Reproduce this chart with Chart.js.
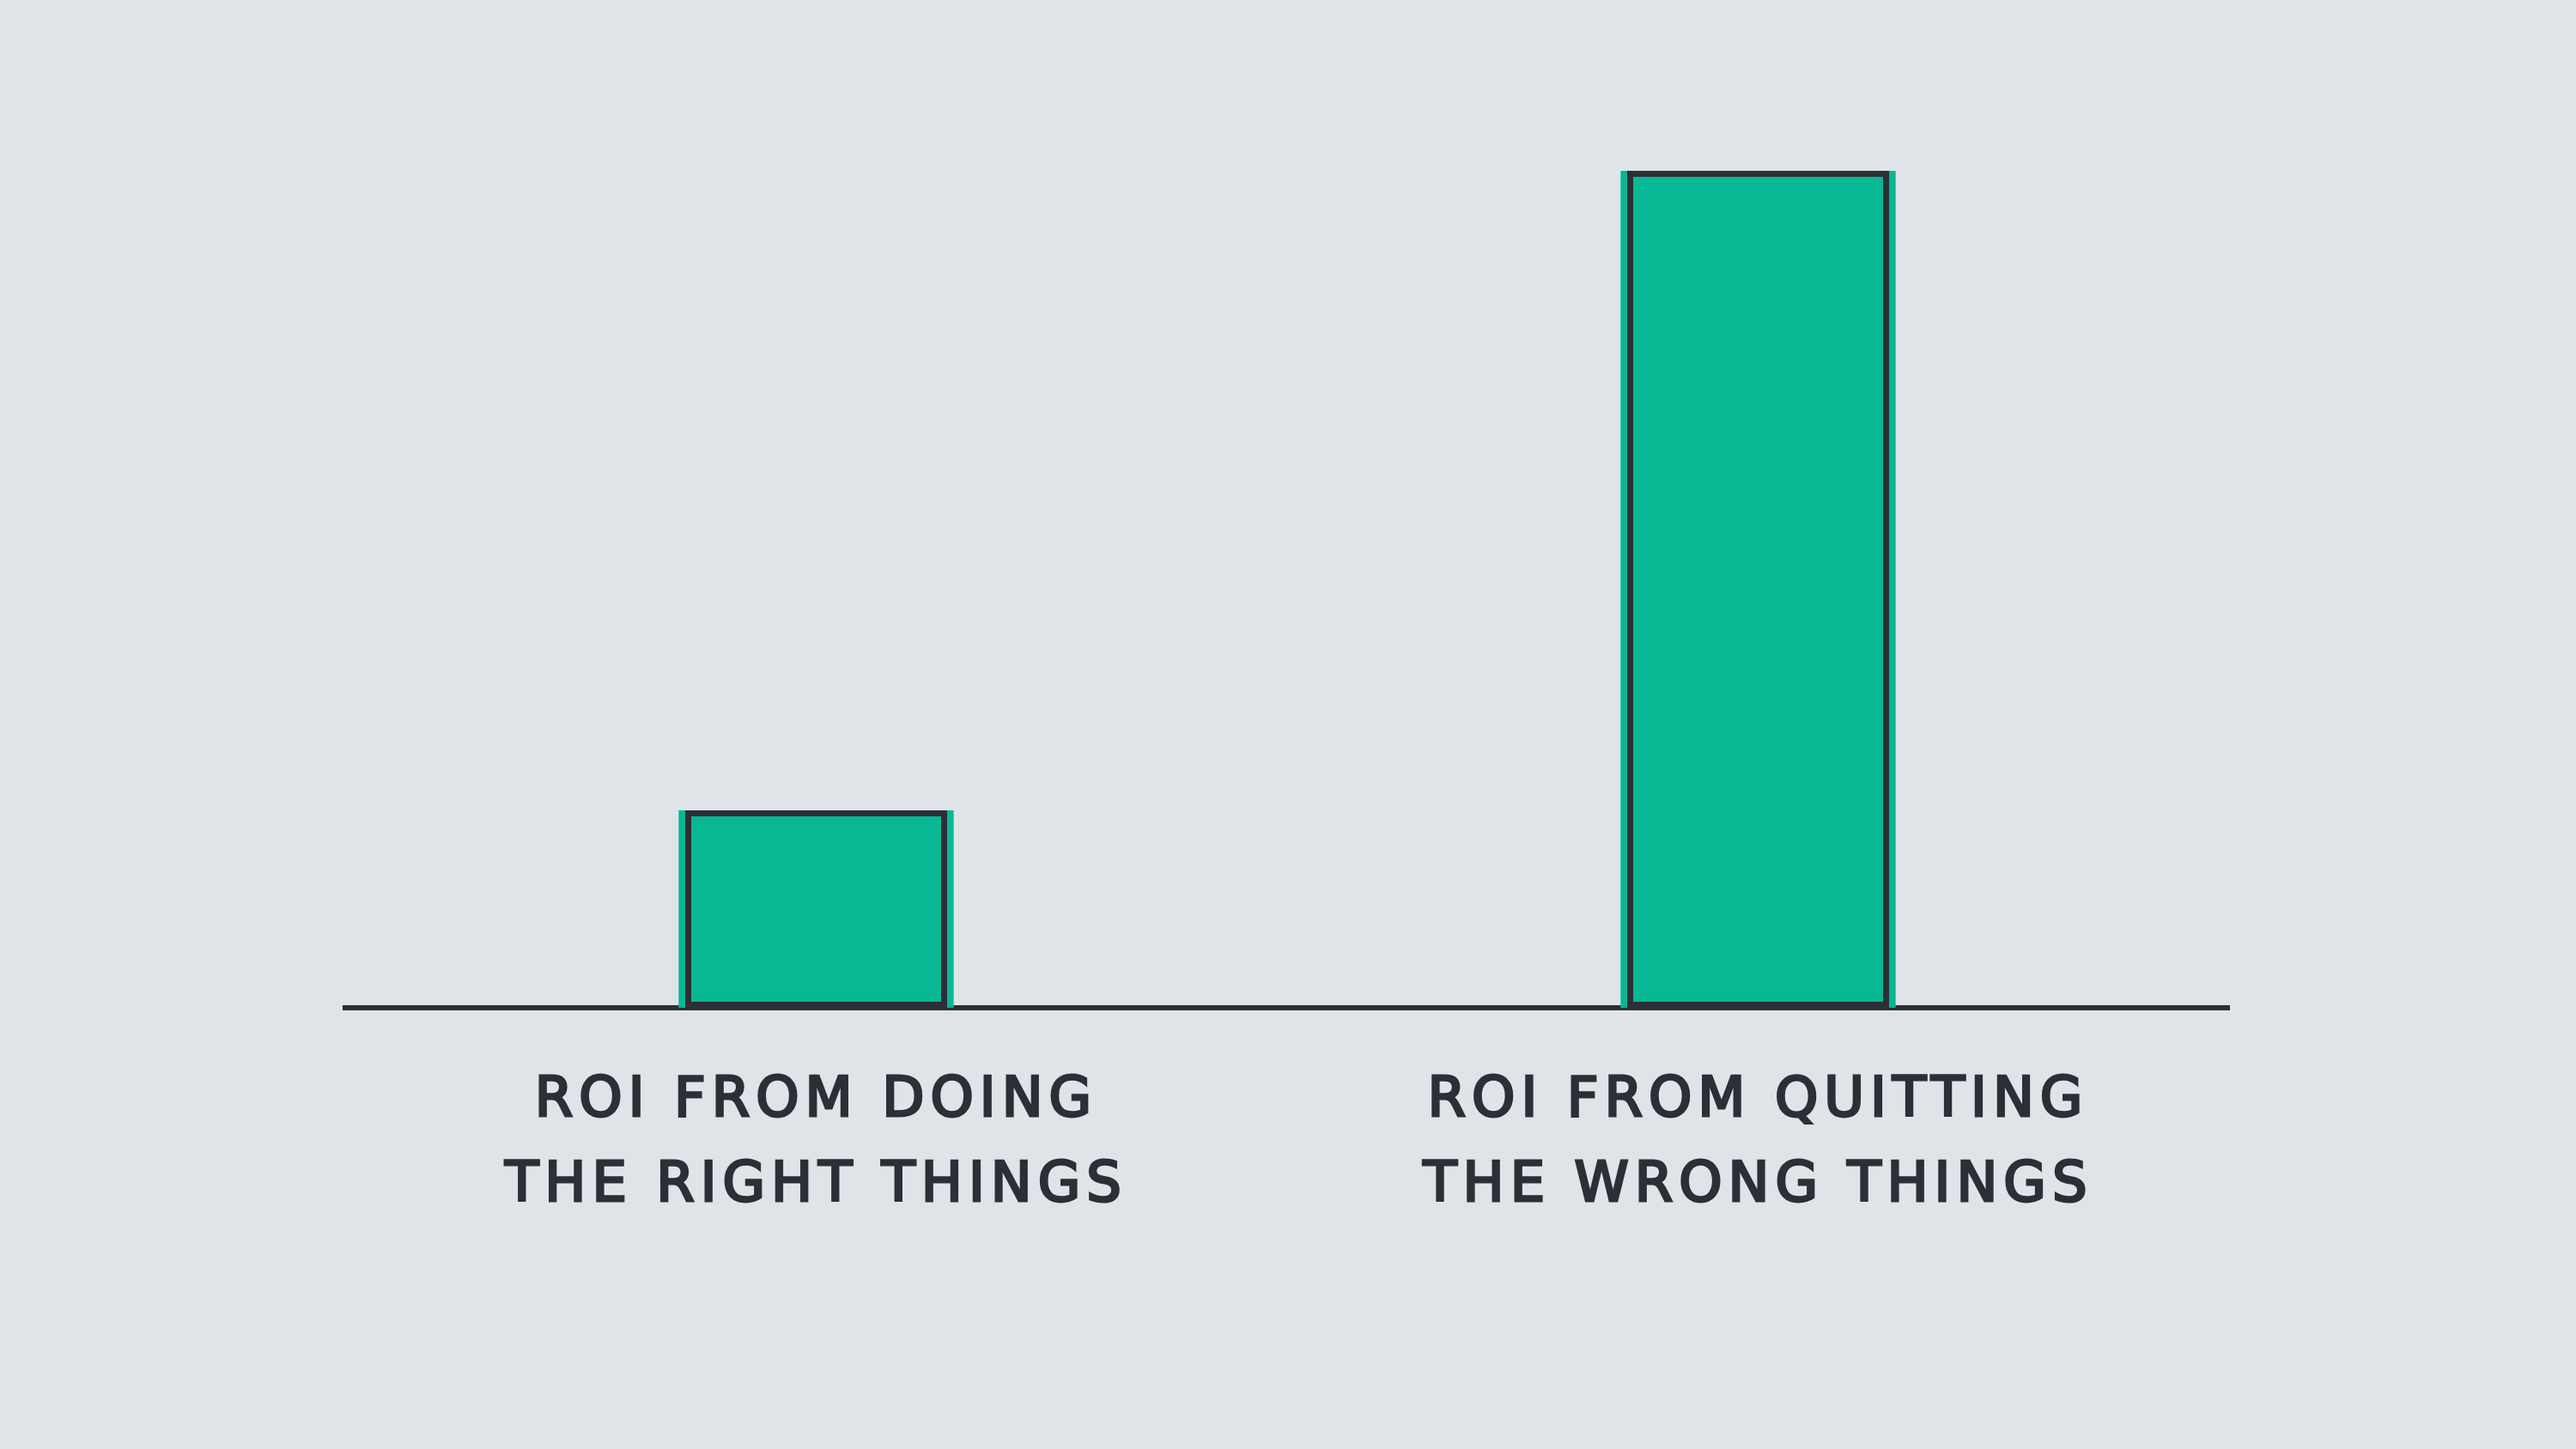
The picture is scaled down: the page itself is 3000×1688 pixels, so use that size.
<!DOCTYPE html>
<html>
<head>
<meta charset="utf-8">
<script src="https://cdn.jsdelivr.net/npm/chart.js@4.4.1/dist/chart.umd.min.js"></script>
<style>
  html, body { margin: 0; padding: 0; background: #dfe4e8; }
  #wrap { width: 3000px; height: 1688px; position: relative; }
</style>
</head>
<body>
<div id="wrap"><canvas id="roiChart"></canvas></div>
<script>
// Datos
const categories = [
  ["ROI FROM DOING", "THE RIGHT THINGS"],
  ["ROI FROM QUITTING", "THE WRONG THINGS"]
];
const roiValues = [23.6, 100];

const teal = "#08b794";
const ink = "#2b2f36";

// espaciado de letras para las etiquetas
const letterSpacingPlugin = {
  id: "letterSpacing",
  beforeDraw(chart) {
    chart.ctx.letterSpacing = "7px";
  }
};

const ctx = document.getElementById("roiChart").getContext("2d");
new Chart(ctx, {
  type: "bar",
  data: {
    labels: categories,
    datasets: [
      {
        // relleno un poco más ancho (efecto a mano)
        data: roiValues,
        backgroundColor: teal,
        borderWidth: 0,
        barPercentage: 0.292,
        categoryPercentage: 1,
        grouped: false,
        order: 2
      },
      {
        data: roiValues,
        backgroundColor: teal,
        borderColor: ink,
        borderWidth: 7,
        borderSkipped: false,
        barPercentage: 0.278,
        categoryPercentage: 1,
        grouped: false,
        order: 1
      }
    ]
  },
  options: {
    responsive: true,
    maintainAspectRatio: false,
    animation: false,
    layout: { padding: { top: 199, left: 402, right: 404, bottom: 196 } },
    plugins: {
      legend: { display: false },
      tooltip: { enabled: false }
    },
    scales: {
      x: {
        grid: { display: false, drawTicks: false },
        border: { display: true, color: ink, width: 6 },
        ticks: {
          color: ink,
          textStrokeColor: ink,
          textStrokeWidth: 3,
          padding: 60,
          maxRotation: 0,
          autoSkip: false,
          font: { family: "'DejaVu Sans'", size: 64, lineHeight: "99px" }
        }
      },
      y: {
        display: false,
        min: 0,
        max: 100
      }
    }
  },
  plugins: [letterSpacingPlugin]
});
</script>
</body>
</html>
